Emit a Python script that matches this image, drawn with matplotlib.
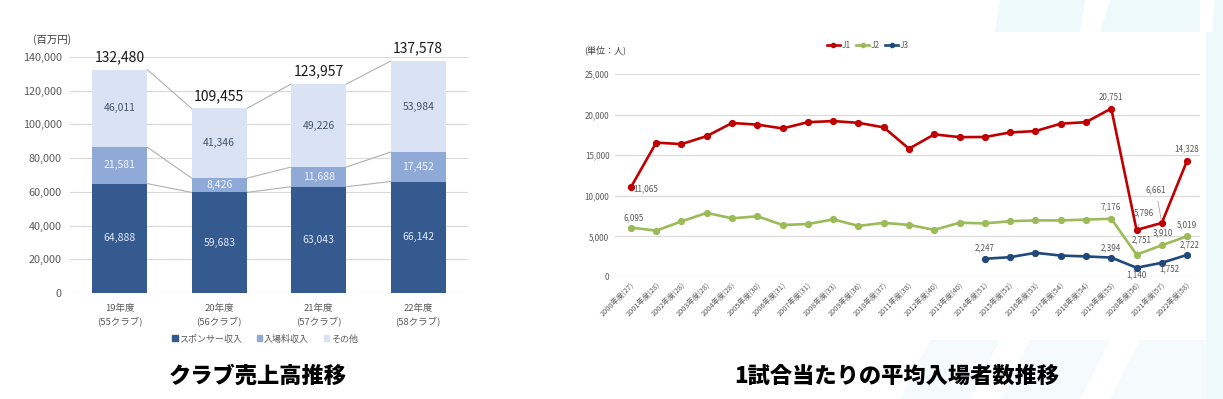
import matplotlib
matplotlib.use('Agg')
import matplotlib.pyplot as plt
from matplotlib.patches import Patch, Polygon
from matplotlib.lines import Line2D
import numpy as np

plt.rcParams['font.family'] = ['Noto Sans CJK JP', 'DejaVu Sans']

# ---------------- data: left chart ----------------
seasons = ['19年度', '20年度', '21年度', '22年度']
clubs = ['(55クラブ)', '(56クラブ)', '(57クラブ)', '(58クラブ)']
sponsor = [64888, 59683, 63043, 66142]
gate = [21581, 8426, 11688, 17452]
other = [46011, 41346, 49226, 53984]
totals = [132480, 109455, 123957, 137578]
rev_series = ['スポンサー収入', '入場料収入', 'その他']
rev_yticks = [0, 20000, 40000, 60000, 80000, 100000, 120000, 140000]

# ---------------- data: right chart ----------------
att_labels = ['2000年度(27)', '2001年度(28)', '2002年度(28)', '2003年度(28)', '2004年度(28)',
              '2005年度(30)', '2006年度(31)', '2007年度(31)', '2008年度(33)', '2009年度(36)',
              '2010年度(37)', '2011年度(38)', '2012年度(40)', '2013年度(40)', '2014年度(51)',
              '2015年度(52)', '2016年度(53)', '2017年度(54)', '2018年度(54)', '2019年度(55)',
              '2020年度(56)', '2021年度(57)', '2022年度(58)']
j1 = [11065, 16548, 16368, 17351, 18965, 18765, 18292, 19066, 19202, 18985, 18428, 15797,
      17566, 17226, 17240, 17803, 17968, 18883, 19064, 20751, 5796, 6661, 14328]
j2 = [6095, 5703, 6853, 7894, 7224, 7480, 6402, 6525, 7092, 6290, 6670, 6416,
      5803, 6685, 6602, 6869, 6972, 6970, 7066, 7176, 2751, 3910, 5019]
j3 = [np.nan, np.nan, np.nan, np.nan, np.nan, np.nan, np.nan, np.nan, np.nan, np.nan, np.nan, np.nan,
      np.nan, np.nan, 2247, 2441, 2980, 2640, 2533, 2394, 1140, 1752, 2722]
league_names = ['J1', 'J2', 'J3']
att_yticks = [0, 5000, 10000, 15000, 20000, 25000]

W, H = 1223, 399
fig = plt.figure(figsize=(W / 100, H / 100), dpi=100)
fig.patch.set_facecolor('white')

def fx(px):
    return px / W

def fy(py):
    return 1 - py / H

# ---- faint background decoration (right side) ----
deco = '#EEF9FC'
deco2 = '#F5FBFD'
for pts, c in [
    ([(1000, 0), (1085, 0), (1080, 32), (995, 32)], deco),
    ([(1110, 0), (1200, 0), (1200, 32), (1100, 32)], deco),
    ([(1215, 0), (1223, 0), (1223, 32), (1212, 32)], deco),
    ([(1206, 32), (1223, 32), (1223, 399), (1206, 399)], deco),
    ([(900, 399), (930, 340), (1000, 340), (970, 399)], deco2),
    ([(1000, 399), (1030, 340), (1110, 340), (1080, 399)], deco2),
    ([(1110, 399), (1140, 340), (1206, 340), (1206, 399)], deco2),
]:
    fig.patches.append(Polygon([(fx(x), fy(y)) for x, y in pts], closed=True,
                               transform=fig.transFigure, facecolor=c,
                               edgecolor='none', zorder=0))

gray_txt = '#595959'
grid_col = '#D9D9D9'

# ---------------- left chart ----------------
axL = fig.add_axes([fx(70), fy(293), fx(468) - fx(70), fy(57) - fy(293)])
axL.set_xlim(-0.5, 3.5)
axL.set_ylim(0, 140000)
c_sp, c_gt, c_ot = '#355A90', '#8FAAD7', '#DAE3F3'
x = np.arange(len(seasons))
bw = 0.555
sp = np.array(sponsor)
gt = np.array(gate)
ot = np.array(other)
axL.bar(x, sp, bw, color=c_sp, zorder=3)
axL.bar(x, gt, bw, bottom=sp, color=c_gt, zorder=3)
axL.bar(x, ot, bw, bottom=sp + gt, color=c_ot, zorder=3)

# connector lines
for tops in [sp, sp + gt, sp + gt + ot]:
    for i in range(len(x) - 1):
        axL.plot([x[i] + bw / 2, x[i + 1] - bw / 2], [tops[i], tops[i + 1]],
                 color='#B0B0B0', lw=0.8, zorder=2)

for i in range(len(x)):
    axL.text(x[i], sp[i] / 2, f'{sp[i]:,}', ha='center', va='center',
             fontsize=7.5, color='#E3EAF6', zorder=4)
    axL.text(x[i], sp[i] + gt[i] / 2, f'{gt[i]:,}', ha='center', va='center',
             fontsize=7.5, color='#F4F7FC', zorder=4)
    axL.text(x[i], sp[i] + gt[i] + ot[i] / 2, f'{ot[i]:,}', ha='center', va='center',
             fontsize=7.5, color='#44546A', zorder=4)
    axL.annotate(f'{totals[i]:,}', (x[i], totals[i]), xytext=(0, 4),
                 textcoords='offset points', ha='center', va='bottom',
                 fontsize=10, color='#1A1A1A', annotation_clip=False)

axL.set_yticks(rev_yticks)
axL.set_yticklabels([f'{v:,}' for v in rev_yticks], fontsize=7.8, color=gray_txt)
axL.set_xticks(x)
axL.set_xticklabels([f'{s}\n{c}' for s, c in zip(seasons, clubs)], fontsize=6.8,
                    color=gray_txt, linespacing=1.5)
axL.tick_params(length=0, pad=6)
axL.tick_params(axis='x', pad=8)
axL.grid(axis='y', color=grid_col, lw=0.8, zorder=0)
for s in axL.spines.values():
    s.set_visible(False)
axL.set_axisbelow(True)
fig.text(fx(52), fy(40), '(百万円)', ha='center', va='center', fontsize=7.5, color='#404040')

handlesL = [Patch(color=c) for c in (c_sp, c_gt, c_ot)]
fig.legend(handlesL, rev_series, loc='center', bbox_to_anchor=(fx(265), fy(339)),
           ncol=3, frameon=False, fontsize=6.5, handlelength=0.6, handleheight=0.6,
           handletextpad=0.2, columnspacing=1.6, labelcolor=gray_txt)

fig.text(fx(258), fy(376), 'クラブ売上高推移', ha='center', va='center',
         fontsize=16, fontweight='heavy', color='black')

# ---------------- right chart ----------------
axR = fig.add_axes([fx(615), fy(277), fx(1200) - fx(615), fy(74) - fy(277)])
n = len(att_labels)
xr = np.arange(n)
axR.set_xlim(-0.63, n - 1 + 0.51)
axR.set_ylim(0, 25000)
cols = {'J1': '#C00000', 'J2': '#9BBB59', 'J3': '#1F497D'}
for name, vals in zip(league_names, [j1, j2, j3]):
    axR.plot(xr, vals, color=cols[name], lw=1.9, marker='o', markersize=4.2,
             zorder=3, label=name)

axR.set_yticks(att_yticks)
axR.set_yticklabels([f'{v:,}' for v in att_yticks], fontsize=5.8, color=gray_txt)
axR.set_xticks(xr)
axR.set_xticklabels(att_labels, fontsize=5.3, color=gray_txt, rotation=45,
                    ha='right', va='top', rotation_mode='anchor')
axR.tick_params(length=0, pad=4)
axR.tick_params(axis='x', pad=3)
axR.grid(axis='y', color=grid_col, lw=0.8, zorder=0)
for s in axR.spines.values():
    s.set_visible(False)
axR.set_axisbelow(True)

# data labels: (series, index, dx px, dy px, leader)
series_map = {'J1': j1, 'J2': j2, 'J3': j3}
label_specs = [
    ('J1', 0, 15, -2, False), ('J1', 19, 0, 12, False), ('J1', 22, 0, 12, False),
    ('J1', 20, 7, 17, True), ('J1', 21, -6, 33, True),
    ('J2', 0, 3, 10, False), ('J2', 19, 0, 12, False), ('J2', 20, 5, 15, True),
    ('J2', 21, 1, 12, False), ('J2', 22, 0, 11, False),
    ('J3', 14, 0, 11, False), ('J3', 19, 0, 10, False), ('J3', 20, 0, -7, False),
    ('J3', 21, 7, -6, False), ('J3', 22, 3, 10, False),
]
for name, i, dx, dy, leader in label_specs:
    v = series_map[name][i]
    kw = {}
    if leader:
        kw['arrowprops'] = dict(arrowstyle='-', color='#A6A6A6', lw=0.6,
                                shrinkA=3, shrinkB=2)
    axR.annotate(f'{int(v):,}', (xr[i], v), xytext=(dx, dy), textcoords='offset pixels',
                 ha='center', va='center', fontsize=5.8, color=gray_txt, zorder=4,
                 annotation_clip=False, **kw)

fig.text(fx(605), fy(50), '(単位：人)', ha='center', va='center', fontsize=6.5, color='#404040')

handlesR = [Line2D([], [], color=cols[nm], lw=1.9, marker='o', markersize=3) for nm in league_names]
fig.legend(handlesR, league_names, loc='center', bbox_to_anchor=(fx(868), fy(45)),
           ncol=3, frameon=False, fontsize=6, handlelength=1.6,
           handletextpad=0.2, columnspacing=0.6, labelcolor=gray_txt)

fig.text(fx(897), fy(376), '1試合当たりの平均入場者数推移', ha='center', va='center',
         fontsize=16, fontweight='heavy', color='black')

fig.savefig('out.png', dpi=100, facecolor='white')
